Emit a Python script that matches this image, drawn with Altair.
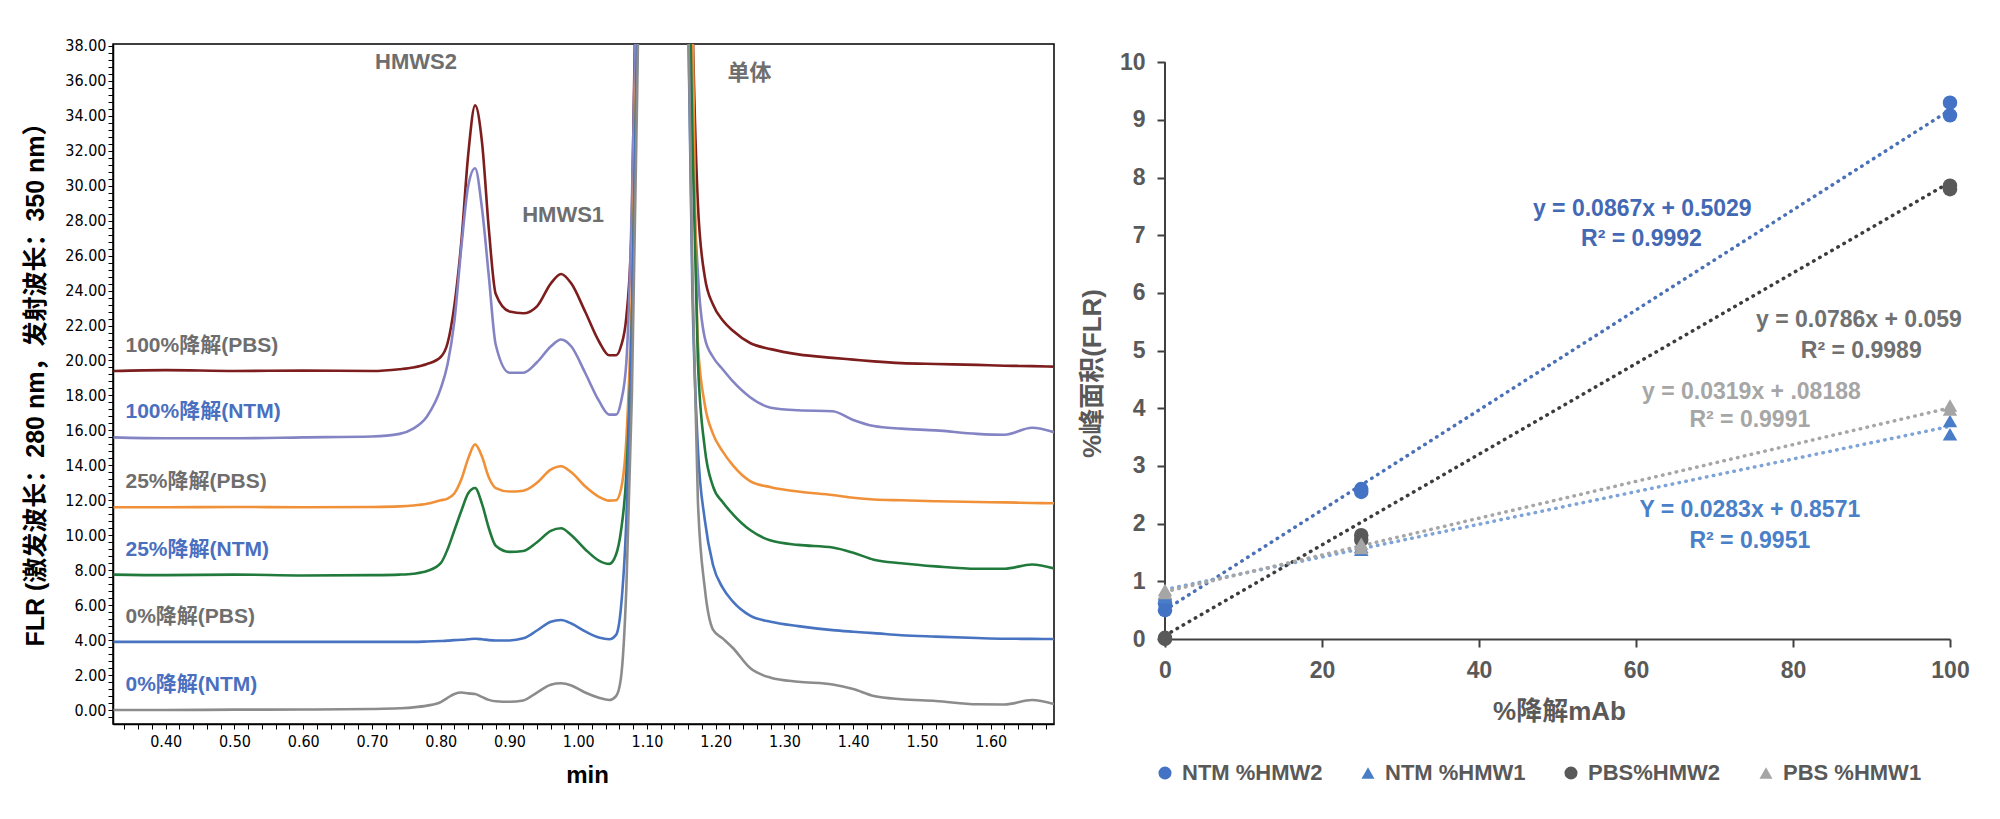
import altair as alt
import pandas as pd
import numpy as np

# ---------------- left panel: chromatograms ----------------
time_min = [0.324, 0.40, 0.50, 0.60, 0.70, 0.74, 0.76, 0.78, 0.80, 0.81, 0.82, 0.83, 0.84, 0.85, 0.86,
            0.87, 0.88, 0.90, 0.92, 0.94, 0.96, 0.975, 0.99, 1.01, 1.03, 1.045, 1.055, 1.062, 1.07, 1.078,
            1.086, 1.12, 1.158, 1.166, 1.174, 1.184, 1.196, 1.21, 1.225, 1.25, 1.28, 1.32, 1.37, 1.40,
            1.43, 1.47, 1.52, 1.58, 1.62, 1.66, 1.692]

pbs_100 = [19.4, 19.45, 19.4, 19.42, 19.4, 19.5, 19.6, 19.8, 20.2, 21.0, 23.2, 26.8, 31.8, 34.6, 32.5,
           27.5, 23.8, 22.8, 22.7, 23.1, 24.4, 24.95, 24.4, 22.8, 21.1, 20.3, 20.3, 20.8, 22.5, 28.0,
           48.0, 150, 60, 40, 29, 24.8, 23.2, 22.3, 21.7, 21.0, 20.65, 20.35, 20.15, 20.05,
           19.95, 19.85, 19.8, 19.75, 19.7, 19.68, 19.65]
ntm_100 = [15.6, 15.55, 15.55, 15.6, 15.65, 15.8, 16.1, 16.8, 18.4, 19.8, 22.3, 26.5, 30.0, 31.0, 28.7,
           24.8, 20.9, 19.3, 19.3, 19.9, 20.8, 21.2, 20.8, 19.3, 17.7, 16.9, 16.9, 17.6, 19.9, 29.0,
           44.0, 150, 55, 33, 25, 21.3, 20.2, 19.5, 18.8, 17.9, 17.3, 17.15, 17.1, 16.6,
           16.25, 16.1, 16.0, 15.8, 15.75, 16.15, 15.9]
pbs_25 = [11.6, 11.6, 11.62, 11.6, 11.62, 11.65, 11.7, 11.8, 12.0, 12.1, 12.4, 13.2, 14.4, 15.2, 14.5,
          13.3, 12.7, 12.5, 12.55, 13.0, 13.75, 13.95, 13.6, 12.8, 12.2, 11.98, 12.0, 12.6, 15.5, 24.0,
          40.0, 150, 60, 40, 21, 17.5, 15.8, 14.8, 14.0, 13.1, 12.75, 12.5, 12.3, 12.15,
          12.05, 12.0, 11.95, 11.9, 11.88, 11.85, 11.83]
ntm_25 = [7.75, 7.72, 7.75, 7.7, 7.72, 7.75, 7.8, 7.95, 8.4, 9.2, 10.3, 11.4, 12.4, 12.7, 11.8,
          10.4, 9.4, 9.05, 9.1, 9.6, 10.25, 10.4, 10.0, 9.2, 8.55, 8.36, 8.9, 10.2, 13.5, 22.0,
          38.5, 150, 50, 33, 20, 15, 12.8, 11.9, 11.2, 10.3, 9.7, 9.45, 9.3, 9.0,
          8.6, 8.4, 8.22, 8.08, 8.08, 8.33, 8.1]
pbs_0 = [3.9, 3.9, 3.9, 3.9, 3.9, 3.9, 3.9, 3.92, 3.95, 3.97, 4.0, 4.02, 4.05, 4.08, 4.05,
         4.0, 3.98, 3.98, 4.1, 4.55, 5.05, 5.15, 4.95, 4.5, 4.15, 4.05, 4.3, 5.8, 10.9, 22.0,
         38.5, 150, 45, 24, 15, 10.9, 8.3, 7.0, 6.2, 5.4, 5.05, 4.8, 4.57, 4.48,
         4.4, 4.28, 4.2, 4.12, 4.08, 4.07, 4.06]
ntm_0 = [0.0, 0.0, 0.02, 0.03, 0.06, 0.1, 0.15, 0.25, 0.45, 0.7, 0.92, 1.0, 0.95, 0.92, 0.75,
         0.58, 0.5, 0.47, 0.55, 1.0, 1.45, 1.53, 1.4, 1.0, 0.7, 0.57, 0.8, 1.8, 7.0, 18.0,
         36.0, 150, 45, 25, 12, 7.0, 4.6, 4.1, 3.55, 2.4, 1.85, 1.62, 1.46, 1.2,
         0.8, 0.62, 0.52, 0.33, 0.32, 0.57, 0.34]

trace_names = ["100%降解(PBS)", "100%降解(NTM)", "25%降解(PBS)", "25%降解(NTM)", "0%降解(PBS)", "0%降解(NTM)"]
trace_values = [pbs_100, ntm_100, pbs_25, ntm_25, pbs_0, ntm_0]
trace_colors = ["#7D1D1D", "#8484C4", "#F0913A", "#217A3C", "#4873C0", "#8C8C8C"]
label_colors = ["#6E6E6E", "#4A6FBF", "#6E6E6E", "#4A6FBF", "#6E6E6E", "#4A6FBF"]

peak_names = ["HMWS2", "HMWS1", "单体"]
peak_t = [0.764, 0.978, 1.249]
peak_y = [37.1, 28.3, 36.45]

# ---------------- right panel: % peak area ----------------
series_names = ["NTM %HMW2", "NTM %HMW1", "PBS%HMW2", "PBS %HMW1"]
series_colors = ["#4472C4", "#4A7DC8", "#595959", "#A5A5A5"]
series_shapes = ["circle", "triangle-up", "circle", "triangle-up"]
degr_x = [0, 0, 25, 25, 100, 100]
ntm_hmw2 = [0.5, 0.62, 2.55, 2.6, 9.08, 9.3]
ntm_hmw1 = [0.78, 0.72, 1.55, 1.6, 3.55, 3.78]
pbs_hmw2 = [0.0, 0.02, 1.72, 1.8, 7.8, 7.86]
pbs_hmw1 = [0.85, 0.8, 1.58, 1.65, 3.98, 4.05]
series_values = [ntm_hmw2, ntm_hmw1, pbs_hmw2, pbs_hmw1]

fit_slopes = [0.0867, 0.0283, 0.0786, 0.0319]
fit_intercepts = [0.5029, 0.8571, 0.059, 0.8188]
fit_colors = ["#4A70B8", "#7EA3D6", "#3C3C3C", "#A6A6A6"]
fit_x = [0, 100]

eq_texts = ["y = 0.0867x + 0.5029", "R² = 0.9992", "y = 0.0786x + 0.059", "R² = 0.9989",
            "y = 0.0319x + .08188", "R² = 0.9991", "Y = 0.0283x + 0.8571", "R² = 0.9951"]
eq_colors = ["#4368B4", "#4368B4", "#707070", "#707070", "#A6A6A6", "#A6A6A6", "#4A80C8", "#4A80C8"]
eq_x = [60.8, 60.7, 88.4, 88.7, 74.7, 74.5, 74.5, 74.5]
eq_y = [7.456, 6.94, 5.53, 5.0, 4.28, 3.80, 2.24, 1.70]

FONT = "Liberation Sans, Arial, Noto Sans CJK SC, sans-serif"
NARROW = "Liberation Sans Narrow, Arial Narrow, DejaVu Sans Condensed, sans-serif"

# ---------- tables ----------
rows = []
for name, vals in zip(trace_names, trace_values):
    for t, v in zip(time_min, vals):
        rows.append({"t": t, "v": v, "trace": name})
trace_df = pd.DataFrame(rows)

label_df = pd.DataFrame({
    "text": trace_names,
    "x": [time_min[0]] * len(trace_names),
    "y": [vals[0] for vals in trace_values],
    "color": label_colors,
})
peak_df = pd.DataFrame({"text": peak_names, "x": peak_t, "y": peak_y})

x_ticks = [round(float(v), 2) for v in np.arange(0.34, 1.6801, 0.02)]
y_ticks = [round(float(v), 1) for v in np.arange(-0.4, 38.01, 0.4)]

xs = alt.Scale(domain=[0.3233, 1.692], nice=False, zero=False)
ys = alt.Scale(domain=[-0.8, 38.11], nice=False, zero=False)

x_axis = alt.Axis(
    values=x_ticks, tickCount=len(x_ticks) + 5,
    labelExpr="abs(datum.value*10 - round(datum.value*10)) < 0.01 ? format(datum.value, '.2f') : ''",
    title="min", titleFont=FONT, titleFontSize=24, titleFontWeight="bold", titleColor="#000000",
    titleX=474, titleY=51, titleBaseline="middle", titleAlign="center",
    labelFont=NARROW, labelFontSize=16, labelColor="#000000", labelPadding=4,
    tickColor="#000000", tickSize=5, tickWidth=1, domainColor="#000000", domainWidth=1.5,
    grid=False, labelOverlap=False, labelFlush=False,
)
y_axis = alt.Axis(
    values=y_ticks, tickCount=len(y_ticks) + 5,
    labelExpr="abs(datum.value/2 - round(datum.value/2)) < 0.01 ? format(datum.value, '.2f') : ''",
    title="FLR (激发波长：280 nm，发射波长：350 nm）", titleFont=FONT, titleFontSize=25,
    titleFontWeight="bold", titleColor="#000000", titleX=-78, titleY=334, titleAngle=270,
    titleBaseline="middle", titleAlign="center",
    labelFont=NARROW, labelFontSize=16, labelColor="#000000", labelPadding=2,
    tickColor="#000000", tickSize=5, tickWidth=1, domainColor="#000000", domainWidth=1.5,
    grid=False, labelOverlap=False, labelFlush=False,
)

lines = alt.Chart(trace_df).mark_line(strokeWidth=2.6, clip=True, interpolate="monotone").encode(
    x=alt.X("t:Q", scale=xs, axis=x_axis),
    y=alt.Y("v:Q", scale=ys, axis=y_axis),
    color=alt.Color("trace:N", scale=alt.Scale(domain=trace_names, range=trace_colors), legend=None),
)
labels = alt.Chart(label_df).mark_text(
    align="left", baseline="middle", dx=12, dy=-25, font=FONT, fontSize=21, fontWeight="bold"
).encode(
    x=alt.X("x:Q", scale=xs), y=alt.Y("y:Q", scale=ys), text="text:N",
    fill=alt.Fill("color:N", scale=None),
)
peaks = alt.Chart(peak_df).mark_text(
    align="center", baseline="middle", font=FONT, fontSize=22, fontWeight="bold", fill="#6E6E6E"
).encode(x=alt.X("x:Q", scale=xs), y=alt.Y("y:Q", scale=ys), text="text:N")

left = alt.layer(lines, labels, peaks).properties(
    width=941, height=680, view=alt.ViewBackground(stroke="#000000", strokeWidth=1.5)
)

# ---------- right panel ----------
prow = []
for name, vals in zip(series_names, series_values):
    for xv, yv in zip(degr_x, vals):
        prow.append({"x": xv, "y": yv, "series": name})
pts_df = pd.DataFrame(prow)

frow = []
for name, m, b, c in zip(series_names, fit_slopes, fit_intercepts, fit_colors):
    for xv in fit_x:
        frow.append({"x": xv, "y": m * xv + b, "series": name, "fcolor": c})
fit_df = pd.DataFrame(frow)

eq_df = pd.DataFrame({"text": eq_texts, "x": eq_x, "y": eq_y, "color": eq_colors})

r_yticks = list(range(0, 11))
r_xticks = [0, 20, 40, 60, 80, 100]
axis_df = pd.DataFrame({"x": [r_xticks[0]], "y": [r_yticks[0]], "y2": [r_yticks[-1]]})

xs2 = alt.Scale(domain=[0, 100], nice=False, zero=False)
ys2 = alt.Scale(domain=[0, 10.317], nice=False, zero=False)

rx_axis = alt.Axis(
    values=r_xticks, format="d", title="%降解mAb", titleFont=FONT, titleFontSize=26,
    titleFontWeight="bold", titleColor="#595959", titleX=394, titleY=72, titleBaseline="middle",
    titleAlign="center",
    labelFont=FONT, labelFontSize=23, labelFontWeight="bold", labelColor="#595959", labelPadding=12,
    tickColor="#404040", tickSize=8, tickWidth=2, domainColor="#404040", domainWidth=2,
    grid=False, labelFlush=False, labelOverlap=False,
)
ry_axis = alt.Axis(
    values=r_yticks, format="d", title="%峰面积(FLR)", titleFont=FONT, titleFontSize=26,
    titleFontWeight="bold", titleColor="#595959", titleX=-73, titleY=329, titleAngle=270,
    titleBaseline="middle", titleAlign="center",
    labelFont=FONT, labelFontSize=23, labelFontWeight="bold", labelColor="#595959", labelPadding=12,
    tickColor="#404040", tickSize=8, tickWidth=2, domain=False,
    grid=False, labelFlush=False, labelOverlap=False,
)

yaxis_line = alt.Chart(axis_df).mark_rule(color="#404040", strokeWidth=2).encode(
    x=alt.X("x:Q", scale=xs2, axis=rx_axis), y=alt.Y("y:Q", scale=ys2, axis=ry_axis), y2="y2:Q"
)
fits = alt.Chart(fit_df).mark_line(strokeWidth=3.5, strokeDash=[0.5, 6.5], strokeCap="round").encode(
    x=alt.X("x:Q", scale=xs2), y=alt.Y("y:Q", scale=ys2), detail="series:N",
    stroke=alt.Stroke("fcolor:N", scale=None),
)
points = alt.Chart(pts_df).mark_point(filled=True, size=210, opacity=1).encode(
    x=alt.X("x:Q", scale=xs2), y=alt.Y("y:Q", scale=ys2),
    color=alt.Color("series:N", scale=alt.Scale(domain=series_names, range=series_colors),
                    legend=alt.Legend(orient="none", legendX=-11, legendY=718, direction="horizontal",
                                      columns=4, title=None, labelFont=FONT, labelFontSize=22,
                                      labelFontWeight="bold", labelColor="#595959", symbolSize=170,
                                      columnPadding=34, labelOffset=6, padding=0,
                                      symbolStrokeWidth=0, labelLimit=400)),
    shape=alt.Shape("series:N", scale=alt.Scale(domain=series_names, range=series_shapes)),
)
eqs = alt.Chart(eq_df).mark_text(
    align="center", baseline="middle", font=FONT, fontSize=23, fontWeight="bold"
).encode(
    x=alt.X("x:Q", scale=xs2), y=alt.Y("y:Q", scale=ys2), text="text:N",
    fill=alt.Fill("color:N", scale=None),
)

right = alt.layer(yaxis_line, fits, points, eqs).properties(
    width=785, height=595, view=alt.ViewBackground(stroke="transparent")
)

chart = alt.hconcat(left, right, spacing=111, bounds="flush").resolve_scale(
    color="independent", shape="independent"
).properties(
    padding={"left": 14, "top": 29, "right": 5, "bottom": 5},
    background="white",
)

chart.save("out.html", embed_options={"renderer": "svg", "actions": False})
